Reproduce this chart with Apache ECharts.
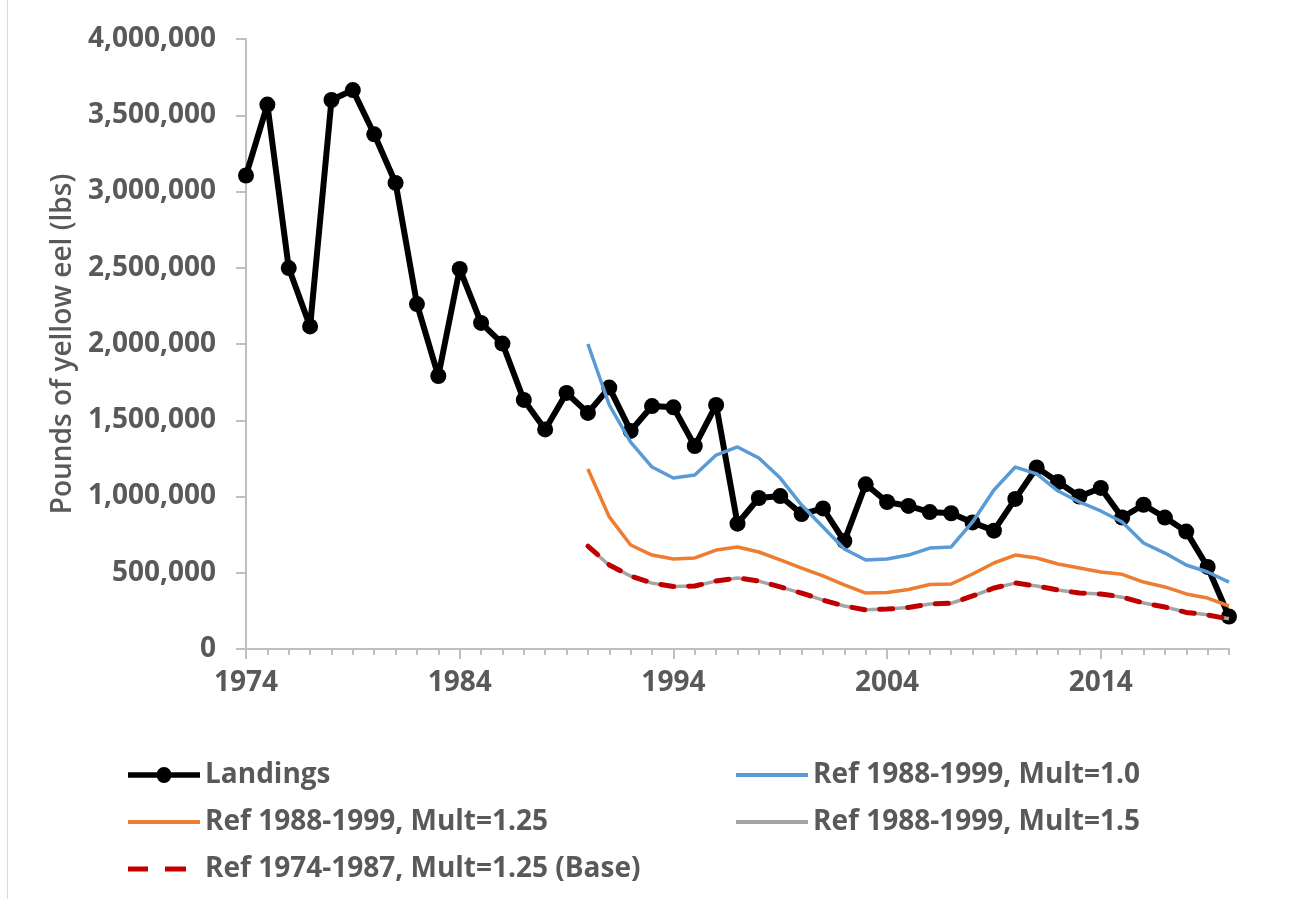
<!DOCTYPE html>
<html>
<head>
<meta charset="utf-8">
<script src="https://cdn.jsdelivr.net/npm/echarts@6/dist/echarts.min.js"></script>
<style>
html,body{margin:0;padding:0;background:#fff;}
#chart{width:1291px;height:899px;}
</style>
</head>
<body>
<div id="chart"></div>
<script>
// ---- data ----
const years = [];
for (let y = 1974; y <= 2020; y++) years.push(y);
const refYears = [];
for (let y = 1990; y <= 2020; y++) refYears.push(y);

const majorTickYears = [1974, 1984, 1994, 2004, 2014];
const yTicks = [0, 500000, 1000000, 1500000, 2000000, 2500000, 3000000, 3500000, 4000000];

const landings = [3105000, 3570000, 2498000, 2115000, 3600000, 3665000, 3375000, 3056000, 2262000, 1790000,
  2492000, 2138000, 2003000, 1633000, 1440000, 1679000, 1548000, 1714000, 1430000, 1593000,
  1585000, 1331000, 1600000, 822000, 990000, 1003000, 885000, 922000, 708000, 1080000,
  964000, 938000, 898000, 890000, 830000, 776000, 984000, 1190000, 1095000, 1000000,
  1056000, 862000, 946000, 862000, 770000, 538000, 213000];

const mult10 = [2000000, 1600000, 1357000, 1193000, 1121000, 1141000, 1272000, 1325000, 1252000, 1121000,
  944000, 800000, 656000, 584000, 590000, 616000, 662000, 669000, 833000, 1043000,
  1193000, 1148000, 1036000, 964000, 905000, 833000, 695000, 629000, 551000, 505000, 439000];

const mult125 = [1180000, 866000, 682000, 616000, 590000, 597000, 649000, 669000, 636000, 584000,
  531000, 479000, 420000, 367000, 370000, 390000, 423000, 426000, 492000, 564000,
  616000, 597000, 557000, 531000, 505000, 490000, 439000, 407000, 361000, 334000, 282000];

const mult15 = [672000, 549000, 478000, 432000, 410000, 413000, 445000, 465000, 445000, 406000,
  366000, 321000, 282000, 257000, 262000, 272000, 295000, 300000, 347000, 400000,
  432000, 413000, 387000, 367000, 360000, 340000, 302000, 276000, 241000, 224000, 198000];

const base = [675000, 551000, 479000, 433000, 410000, 413000, 446000, 466000, 446000, 407000,
  367000, 321000, 282000, 256000, 262000, 272000, 295000, 300000, 348000, 400000,
  433000, 413000, 387000, 367000, 361000, 341000, 302000, 275000, 240000, 223000, 197000];

const names = ['Landings', 'Ref 1988-1999, Mult=1.0', 'Ref 1988-1999, Mult=1.25',
  'Ref 1988-1999, Mult=1.5', 'Ref 1974-1987, Mult=1.25 (Base)'];

function pairs(xs, vs) { return xs.map((x, i) => [x, vs[i]]); }

const FONT = "'Open Sans', 'Liberation Sans', sans-serif";
const GREY = '#595959';
const AXIS = '#BFBFBF';

const chart = echarts.init(document.getElementById('chart'), null, {renderer: 'canvas'});

const legendText = {color: GREY, fontSize: 28, fontWeight: 'bold', fontFamily: FONT};
const ICON_LANDINGS = 'path://M0,5.5H72V10.5H0Z M43.5,8A7.5,7.5 0 1 1 28.5,8A7.5,7.5 0 1 1 43.5,8Z';
const ICON_DASH = 'path://M0,0H20V5H0Z M37,0H58V5H37Z M72,0L72,5';
function legendAt(name, left, top, icon, h) {
  return {
    data: [{name: name, icon: icon}], left: left, top: top, orient: 'horizontal',
    itemWidth: 72, itemHeight: h, itemGap: 0, padding: 0, symbolKeepAspect: false,
    textStyle: legendText, selectedMode: false
  };
}

const option = {
  backgroundColor: '#fff',
  animation: false,
  textStyle: {fontFamily: FONT},
  graphic: [{
    type: 'line', shape: {x1: 7.5, y1: 0, x2: 7.5, y2: 899},
    style: {stroke: '#D9D9D9', lineWidth: 1}
  }],
  grid: {left: 246, right: 62, top: 39, bottom: 250, containLabel: false},
  legend: [
    legendAt(names[0], 128, 761, ICON_LANDINGS, 16),
    legendAt(names[1], 736, 761, 'rect', 4),
    legendAt(names[2], 128, 808, 'rect', 4),
    legendAt(names[3], 736, 808, 'rect', 4),
    legendAt(names[4], 128, 855, ICON_DASH, 5)
  ],
  xAxis: [{
    type: 'value', min: 1974, max: 2020, position: 'bottom',
    splitLine: {show: false},
    axisLine: {show: true, onZero: false, lineStyle: {color: AXIS, width: 2}},
    axisTick: {show: true, length: 10, customValues: majorTickYears, lineStyle: {color: AXIS, width: 2}},
    axisLabel: {customValues: majorTickYears, color: GREY, fontSize: 28, fontWeight: 'bold',
      fontFamily: FONT, margin: 20, formatter: v => String(v)}
  }, {
    type: 'value', min: 1974, max: 2020, position: 'bottom',
    splitLine: {show: false},
    axisLine: {show: false, onZero: false},
    axisTick: {show: true, length: 6, customValues: years, lineStyle: {color: AXIS, width: 2}},
    axisLabel: {show: false}
  }],
  yAxis: {
    type: 'value', min: 0, max: 4000000, interval: 500000,
    name: 'Pounds of yellow eel (lbs)', nameLocation: 'middle', nameRotate: 90, nameGap: 168,
    nameTextStyle: {color: GREY, fontSize: 28, fontWeight: 600, fontFamily: FONT},
    splitLine: {show: false},
    axisLine: {show: true, lineStyle: {color: AXIS, width: 2}},
    axisTick: {show: true, length: 10, lineStyle: {color: AXIS, width: 2}},
    axisLabel: {color: GREY, fontSize: 28, fontWeight: 'bold', fontFamily: FONT, margin: 30,
      customValues: yTicks,
      formatter: v => Number(v).toLocaleString('en-US')}
  },
  series: [{
    name: names[0], type: 'line', xAxisIndex: 0, data: pairs(years, landings),
    symbol: 'circle', symbolSize: 16, showSymbol: true,
    lineStyle: {color: '#000', width: 6, cap: 'round', join: 'round'},
    itemStyle: {color: '#000'}, z: 2
  }, {
    name: names[1], type: 'line', xAxisIndex: 0, data: pairs(refYears, mult10),
    symbol: 'none', lineStyle: {color: '#5B9BD5', width: 3.5, join: 'round'},
    itemStyle: {color: '#5B9BD5'}, z: 3
  }, {
    name: names[2], type: 'line', xAxisIndex: 0, data: pairs(refYears, mult125),
    symbol: 'none', lineStyle: {color: '#ED7D31', width: 3.5, join: 'round'},
    itemStyle: {color: '#ED7D31'}, z: 3
  }, {
    name: names[3], type: 'line', xAxisIndex: 0, data: pairs(refYears, mult15),
    symbol: 'none', lineStyle: {color: '#A5A5A5', width: 3.5, join: 'round'},
    itemStyle: {color: '#A5A5A5'}, z: 3
  }, {
    name: names[4], type: 'line', xAxisIndex: 0, data: pairs(refYears, base),
    symbol: 'none', lineStyle: {color: '#C00000', width: 5, type: [13, 15], cap: 'round', join: 'round'},
    itemStyle: {color: '#C00000'}, z: 4
  }]
};

chart.setOption(option);
</script>
</body>
</html>
